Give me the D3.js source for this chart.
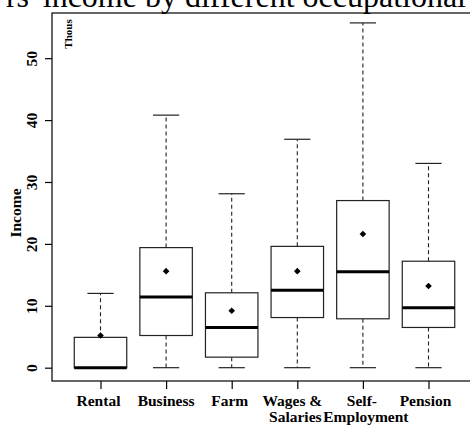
<!DOCTYPE html>
<html>
<head>
<meta charset="utf-8">
<script src="https://cdn.jsdelivr.net/npm/d3@7"></script>
<style>
html,body{margin:0;padding:0;background:#fff;}
svg{display:block;}
</style>
</head>
<body>
<svg id="chart" width="470" height="426"></svg>
<script>
const categories = ["Rental","Business","Farm","Wages & Salaries","Self-Employment","Pension"];
const categoryLines = [["Rental"],["Business"],["Farm"],["Wages &","Salaries"],["Self-","Employment"],["Pension"]];
const whiskerLow = [0, 0, 0, 0, 0, 0];
const q1 = [0, 5.2, 1.7, 8.1, 7.9, 6.5];
const median = [0, 11.4, 6.5, 12.5, 15.5, 9.7];
const q3 = [4.9, 19.4, 12.1, 19.6, 27.0, 17.2];
const whiskerHigh = [12.0, 40.8, 28.1, 36.9, 55.7, 33.0];
const mean = [5.2, 15.6, 9.2, 15.6, 21.6, 13.2];
const yTicks = [0, 10, 20, 30, 40, 50];
const titleText = "rs' income by different occupational";
const yLabel = "Income";
const unitLabel = "Thous";

(function () {
const svg = d3.select("#chart");
const serif = "'Liberation Serif','Times New Roman',serif";

const plotLeft = 52, plotTop = 13, plotBottom = 381, plotRight = 477;
const y = d3.scaleLinear().domain([-2.15, 57.3]).range([plotBottom, plotTop]);
const x = d3.scalePoint().domain(categories).range([100.5, 428.5]);
const step = x.step();
const boxHalf = step * 0.4;
const capHalf = boxHalf * 0.5;
// small horizontal nudges of label lines (layout only)
const lineNudge = [[-2], [0], [-2], [-5, -2], [-1, 3], [-3]];

// title (cropped at top, as in the reference)
svg.append("text").attr("x", 466).attr("y", 7).attr("text-anchor", "end")
  .attr("font-family", serif).attr("font-size", 32).attr("fill", "#000")
  .text(titleText);

// frame
svg.append("rect").attr("x", plotLeft).attr("y", plotTop).attr("width", plotRight - plotLeft).attr("height", plotBottom - plotTop)
  .attr("fill", "none").attr("stroke", "#000").attr("stroke-width", 1.2);

// y axis
const yAxis = svg.append("g").attr("transform", `translate(${plotLeft},0)`)
  .call(d3.axisLeft(y).tickValues(yTicks).tickSize(7).tickPadding(0).tickFormat(d3.format("d")));
yAxis.select(".domain").remove();
yAxis.selectAll(".tick line").attr("stroke", "#000").attr("stroke-width", 1.2);
yAxis.selectAll(".tick text")
  .attr("x", null).attr("dy", null)
  .attr("text-anchor", "middle")
  .attr("transform", "translate(-15,0) rotate(-90)")
  .attr("font-family", serif).attr("font-size", 15.5).attr("font-weight", "bold").attr("fill", "#000");

// x axis
const xAxis = svg.append("g").attr("transform", `translate(0,${plotBottom})`)
  .call(d3.axisBottom(x).tickSize(8).tickFormat(""));
xAxis.select(".domain").remove();
xAxis.selectAll(".tick line").attr("stroke", "#000").attr("stroke-width", 1.2);

categories.forEach((c, i) => {
  const t = svg.append("text").attr("text-anchor", "middle")
    .attr("font-family", serif).attr("font-size", 15.5).attr("font-weight", "bold").attr("fill", "#000");
  categoryLines[i].forEach((ln, j) => {
    t.append("tspan").attr("x", x(c) + lineNudge[i][j]).attr("y", 405.5 + j * 16).text(ln);
  });
});

// axis labels
svg.append("text").attr("transform", "translate(20.5,213) rotate(-90)").attr("text-anchor", "middle")
  .attr("font-family", serif).attr("font-size", 15.5).attr("font-weight", "bold").text(yLabel);
svg.append("text").attr("transform", "translate(71.5,34) rotate(-90)").attr("text-anchor", "middle")
  .attr("font-family", serif).attr("font-size", 11).attr("font-weight", "bold").text(unitLabel);

// boxes
const g = svg.append("g");
categories.forEach((c, i) => {
  const cx = x(c);
  g.append("line").attr("x1", cx).attr("x2", cx).attr("y1", y(q3[i])).attr("y2", y(whiskerHigh[i]))
    .attr("stroke", "#222").attr("stroke-width", 1.1).attr("stroke-dasharray", "4,3");
  g.append("line").attr("x1", cx).attr("x2", cx).attr("y1", y(q1[i])).attr("y2", y(whiskerLow[i]))
    .attr("stroke", "#222").attr("stroke-width", 1.1).attr("stroke-dasharray", "4,3");
  [whiskerHigh[i], whiskerLow[i]].forEach(v => {
    g.append("line").attr("x1", cx - capHalf).attr("x2", cx + capHalf).attr("y1", y(v)).attr("y2", y(v))
      .attr("stroke", "#222").attr("stroke-width", 1.2);
  });
  g.append("rect").attr("x", cx - boxHalf).attr("y", y(q3[i])).attr("width", boxHalf * 2)
    .attr("height", y(q1[i]) - y(q3[i])).attr("fill", "#fff").attr("stroke", "#222").attr("stroke-width", 1.2);
  g.append("line").attr("x1", cx - boxHalf).attr("x2", cx + boxHalf).attr("y1", y(median[i])).attr("y2", y(median[i]))
    .attr("stroke", "#000").attr("stroke-width", 3);
  g.append("path").attr("d", d3.symbol(d3.symbolSquare, 22)())
    .attr("transform", `translate(${cx},${y(mean[i])}) rotate(45)`).attr("fill", "#000");
});
})();
</script>
</body>
</html>
